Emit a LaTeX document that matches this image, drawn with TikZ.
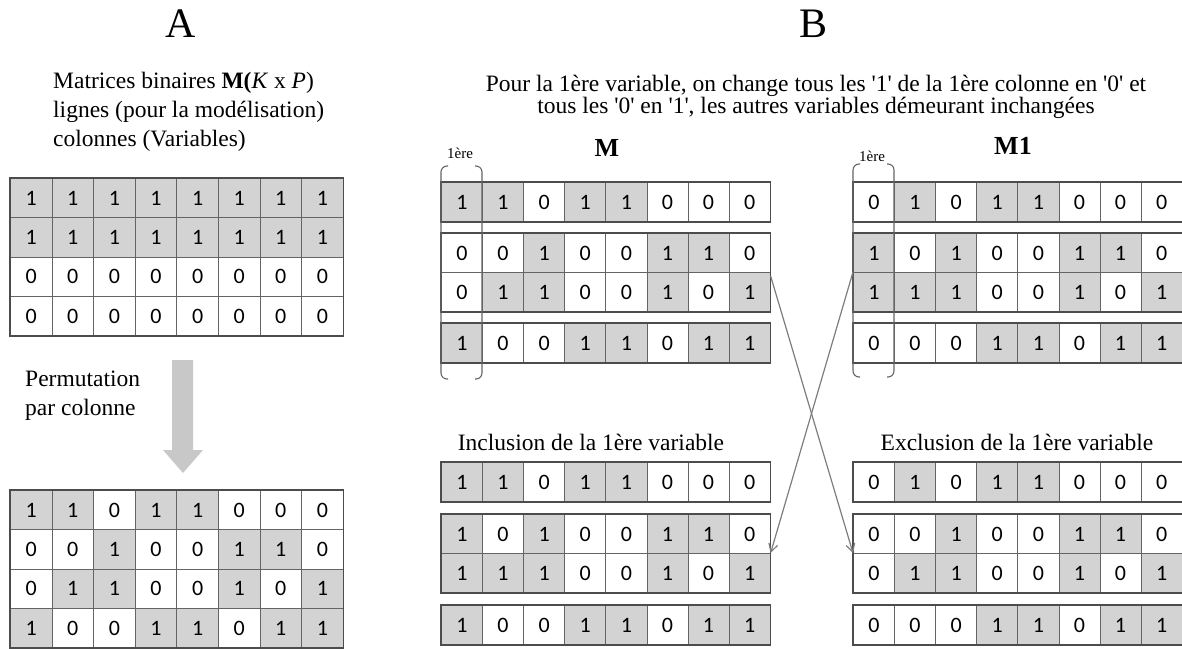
\documentclass[tikz,border=0pt]{standalone}
\usepackage{fontspec}
\setmainfont{Liberation Serif}
\newfontfamily\chiffre{Carlito}
\usetikzlibrary{arrows.meta}

\definecolor{cellgris}{RGB}{211,211,211}
\definecolor{trait}{RGB}{100,100,100}
\definecolor{fleche}{RGB}{125,125,125}
\definecolor{flechepleine}{RGB}{200,200,200}

\tikzset{
  cell/.style={draw=trait, line width=0.8pt, anchor=north west, inner sep=0pt,
    minimum height=39.3pt, font=\chiffre\fontsize{22}{22}\selectfont},
  cell0/.style={cell, fill=white},
  cell1/.style={cell, fill=cellgris},
  groupe/.style={draw=black!70, line width=1.3pt},
  txt/.style={font=\fontsize{23.5}{29}\selectfont, inner sep=0pt},
  petit/.style={font=\fontsize{15}{15}\selectfont, inner sep=0pt},
  lien/.style={draw=fleche, line width=1.2pt, -{Straight Barb[length=8pt,width=9pt]}},
}

% une ligne de matrice binaire : nom, x, y, largeur de case, chiffres
\newcommand{\ligne}[5]{%
  \foreach \v [count=\c] in {#5}
    \node[cell\v, minimum width=#4pt] (#1-\c) at ({#2+(\c-1)*#4},#3) {\v};
}
% crochet autour de la 1ere colonne : x gauche, x droit, y haut, y bas
\newcommand{\crochet}[4]{%
  \draw[trait, line width=1.1pt, rounded corners=6pt] ({#1+7},#3) -- (#1,#3) -- (#1,#4) -- ({#1+7},#4);
  \draw[trait, line width=1.1pt, rounded corners=6pt] ({#2-7},#3) -- (#2,#3) -- (#2,#4) -- ({#2-7},#4);
}

\begin{document}
\begin{tikzpicture}[x=1pt,y=-1pt]
\useasboundingbox (0,0) rectangle (1182,648);

% ---- A
\node[font=\fontsize{42}{42}\selectfont] (A) at (181,24) {A};
\node[txt, align=left, anchor=north west] (defA) at (53,72)
  {Matrices binaires \textbf{M(}\textit{K} x \textit{P})\\
   lignes (pour la modélisation)\\
   colonnes (Variables)};

\ligne{At1}{10}{178}{41.6}{1,1,1,1,1,1,1,1}
\ligne{At2}{10}{217.3}{41.6}{1,1,1,1,1,1,1,1}
\ligne{At3}{10}{256.6}{41.6}{0,0,0,0,0,0,0,0}
\ligne{At4}{10}{295.9}{41.6}{0,0,0,0,0,0,0,0}
\draw[groupe] (At1-1.north west) rectangle (At4-8.south east);

\fill[flechepleine] (172,360) -- (193,360) -- (193,450) -- (203,450) -- (183,473)
  -- (163,450) -- (172,450) -- cycle;
\node[txt, align=left, anchor=west] (perm) at (25,396) {Permutation\\par colonne};

\ligne{Ab1}{10}{490}{41.6}{1,1,0,1,1,0,0,0}
\ligne{Ab2}{10}{529.3}{41.6}{0,0,1,0,0,1,1,0}
\ligne{Ab3}{10}{568.6}{41.6}{0,1,1,0,0,1,0,1}
\ligne{Ab4}{10}{607.9}{41.6}{1,0,0,1,1,0,1,1}
\draw[groupe] (Ab1-1.north west) rectangle (Ab4-8.south east);

% ---- B
\node[font=\fontsize{42}{42}\selectfont] (B) at (813,24) {B};
\node[txt, align=center, font=\fontsize{23.5}{22}\selectfont] (consigne) at (816,97)
  {Pour la 1ère variable, on change tous les \textquotesingle 1\textquotesingle{} de la 1ère colonne en \textquotesingle 0\textquotesingle{} et\\
   tous les \textquotesingle 0\textquotesingle{} en \textquotesingle 1\textquotesingle, les autres variables démeurant inchangées};

% M
\node[font=\bfseries\fontsize{26}{26}\selectfont] (nomM) at (607,148) {M};
\node[petit] (prM) at (460,153) {1ère};
\ligne{M1}{441}{182}{41.1}{1,1,0,1,1,0,0,0}
\ligne{M2}{441}{233}{41.1}{0,0,1,0,0,1,1,0}
\ligne{M3}{441}{272}{41.1}{0,1,1,0,0,1,0,1}
\ligne{M4}{441}{323}{41.1}{1,0,0,1,1,0,1,1}
\draw[groupe] (M1-1.north west) rectangle (M1-8.south east);
\draw[groupe] (M2-1.north west) rectangle (M3-8.south east);
\draw[groupe] (M4-1.north west) rectangle (M4-8.south east);
\crochet{441}{482}{166}{379}

% M1
\node[font=\bfseries\fontsize{26}{26}\selectfont] (nomMun) at (1013,146) {M1};
\node[petit] (prMun) at (872,156) {1ère};
\ligne{Mun1}{853}{182}{41.1}{0,1,0,1,1,0,0,0}
\ligne{Mun2}{853}{233}{41.1}{1,0,1,0,0,1,1,0}
\ligne{Mun3}{853}{272}{41.1}{1,1,1,0,0,1,0,1}
\ligne{Mun4}{853}{323}{41.1}{0,0,0,1,1,0,1,1}
\draw[groupe] (Mun1-1.north west) rectangle (Mun1-8.south east);
\draw[groupe] (Mun2-1.north west) rectangle (Mun3-8.south east);
\draw[groupe] (Mun4-1.north west) rectangle (Mun4-8.south east);
\crochet{853}{894}{164}{377}

% inclusion / exclusion
\node[txt] (incl) at (591,442) {Inclusion de la 1ère variable};
\ligne{In1}{441}{462}{41.1}{1,1,0,1,1,0,0,0}
\ligne{In2}{441}{514}{41.1}{1,0,1,0,0,1,1,0}
\ligne{In3}{441}{553}{41.1}{1,1,1,0,0,1,0,1}
\ligne{In4}{441}{605}{41.1}{1,0,0,1,1,0,1,1}
\draw[groupe] (In1-1.north west) rectangle (In1-8.south east);
\draw[groupe] (In2-1.north west) rectangle (In3-8.south east);
\draw[groupe] (In4-1.north west) rectangle (In4-8.south east);

\node[txt] (excl) at (1017,442) {Exclusion de la 1ère variable};
\ligne{Ex1}{853}{462}{41.1}{0,1,0,1,1,0,0,0}
\ligne{Ex2}{853}{514}{41.1}{0,0,1,0,0,1,1,0}
\ligne{Ex3}{853}{553}{41.1}{0,1,1,0,0,1,0,1}
\ligne{Ex4}{853}{605}{41.1}{0,0,0,1,1,0,1,1}
\draw[groupe] (Ex1-1.north west) rectangle (Ex1-8.south east);
\draw[groupe] (Ex2-1.north west) rectangle (Ex3-8.south east);
\draw[groupe] (Ex4-1.north west) rectangle (Ex4-8.south east);

\draw[lien] ([yshift=-4pt]M3-8.north east) -- (Ex3-1.north west);
\draw[lien] (Mun3-1.north west) -- (In3-8.north east);
\end{tikzpicture}
\end{document}
